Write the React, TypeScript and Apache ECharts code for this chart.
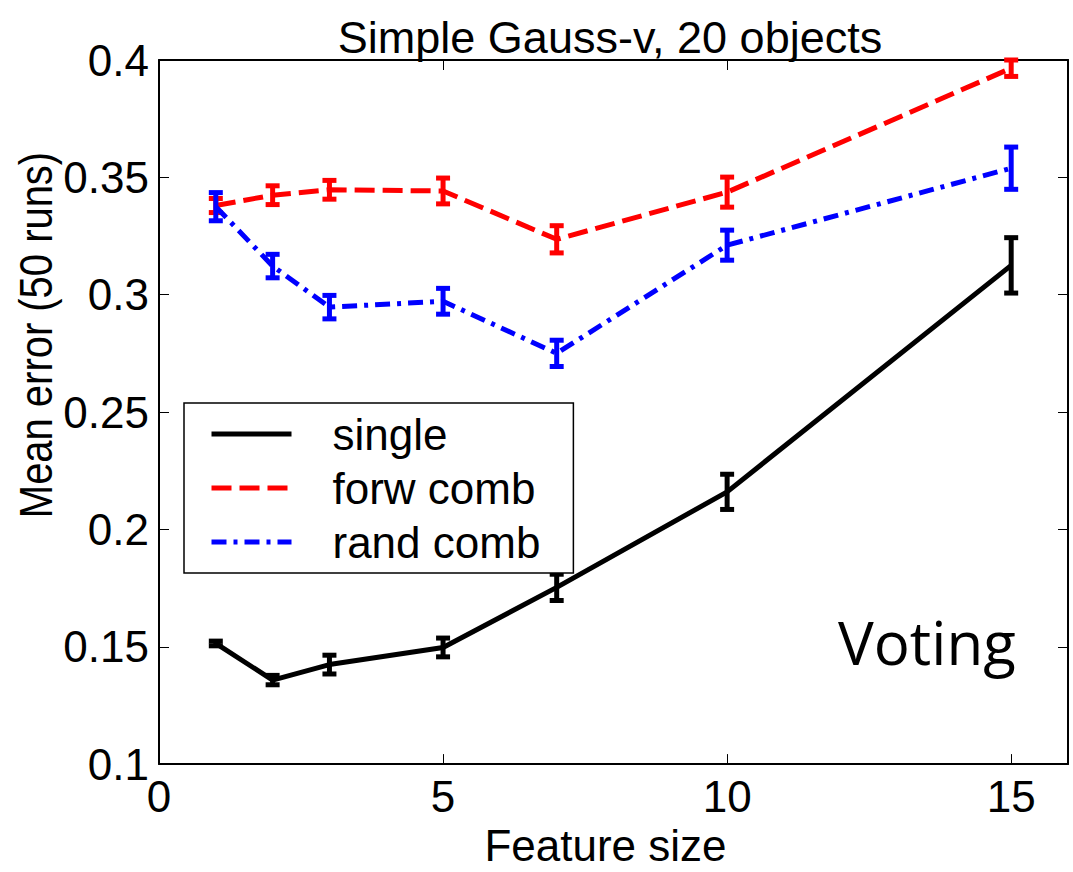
import React, { useEffect, useRef } from "react";
import * as echarts from "echarts";

const featureSizes = [1, 2, 3, 5, 7, 10, 15];
const singleMean = [0.1514, 0.1358, 0.1424, 0.1497, 0.1753, 0.216, 0.3125];
const singleErr = [0.001, 0.002, 0.004, 0.004, 0.0056, 0.0075, 0.0118];
const forwMean = [0.338, 0.3424, 0.3447, 0.3442, 0.3236, 0.3437, 0.3965];
const forwErr = [0.003, 0.004, 0.004, 0.0055, 0.0058, 0.0064, 0.0035];
const randMean = [0.3375, 0.3122, 0.2947, 0.2972, 0.275, 0.3211, 0.3539];
const randErr = [0.006, 0.005, 0.005, 0.0055, 0.0056, 0.0064, 0.009];

const FONT = "'Liberation Sans', Arial, Helvetica, sans-serif";

function errData(means: number[], errs: number[]) {
  return featureSizes.map((x, i) => [x, means[i] - errs[i], means[i] + errs[i]]);
}

function errRender(color: string) {
  return (params: any, api: any) => {
    const x = api.value(0);
    const lo = api.value(1);
    const hi = api.value(2);
    const top = api.coord([x, hi]);
    const bot = api.coord([x, lo]);
    const hw = 7;
    const st = { stroke: color, lineWidth: 5 };
    return {
      type: "group",
      children: [
        { type: "line", shape: { x1: top[0], y1: top[1], x2: bot[0], y2: bot[1] }, style: st },
        { type: "line", shape: { x1: top[0] - hw, y1: top[1], x2: top[0] + hw, y2: top[1] }, style: st },
        { type: "line", shape: { x1: bot[0] - hw, y1: bot[1], x2: bot[0] + hw, y2: bot[1] }, style: st },
      ],
    };
  };
}

export default function App() {
  const ref = useRef<HTMLDivElement>(null);
  useEffect(() => {
    if (!ref.current) return;
    const chart = echarts.init(ref.current, null, { renderer: "svg" });
    const axisCommon = {
      axisLine: { show: true, onZero: false, lineStyle: { color: "#000", width: 2 } },
      axisTick: { show: true, inside: true, length: 10, lineStyle: { color: "#000", width: 1 } },
      splitLine: { show: false },
    };
    chart.setOption({
      animation: false,
      backgroundColor: "#fff",
      title: {
        text: "Simple Gauss-v, 20 objects",
        left: 605,
        top: 10,
        textAlign: "center",
        textStyle: { fontFamily: FONT, fontSize: 45, fontWeight: "normal", color: "#000" },
      },
      grid: { left: 159, width: 909, top: 60, height: 720, containLabel: false },
      legend: {
        orient: "vertical",
        left: 184,
        top: 403,
        data: ["single", "forw comb", "rand comb"],
        itemWidth: 80,
        itemHeight: 20,
        itemGap: 10,
        padding: [9, 33, 9, 25],
        borderColor: "#000",
        borderWidth: 1.5,
        backgroundColor: "#fff",
        itemStyle: { opacity: 0 },
        lineStyle: { width: 5 },
        textStyle: { fontFamily: FONT, fontSize: 44, color: "#000", lineHeight: 44, padding: [0, 0, 0, 36] },
      },
      xAxis: [
        {
          type: "value",
          min: 0,
          max: 16,
          interval: 5,
          name: "Feature size",
          nameLocation: "middle",
          nameGap: 43,
          nameTextStyle: { fontFamily: FONT, fontSize: 44, color: "#000", padding: [0, 16, 0, 0] },
          axisLabel: { fontFamily: FONT, fontSize: 44, color: "#000", margin: 10, showMaxLabel: false },
          ...axisCommon,
        },
        {
          type: "value",
          position: "top",
          min: 0,
          max: 16,
          interval: 5,
          axisLabel: { show: false },
          ...axisCommon,
        },
      ],
      yAxis: [
        {
          type: "value",
          min: 0.1,
          max: 0.4,
          interval: 0.05,
          axisLabel: { fontFamily: FONT, fontSize: 44, color: "#000", margin: 10 },
          ...axisCommon,
        },
        {
          type: "value",
          position: "right",
          min: 0.1,
          max: 0.4,
          interval: 0.05,
          axisLabel: { show: false },
          ...axisCommon,
        },
      ],
      graphic: [
        {
          type: "text",
          x: 36,
          y: 335,
          rotation: Math.PI / 2,
          scaleX: 0.85,
          scaleY: 1,
          style: {
            text: "Mean error (50 runs)",
            fontFamily: FONT,
            fontSize: 47,
            fill: "#000",
            align: "center",
            verticalAlign: "middle",
          },
        },
        {
          type: "text",
          left: 838,
          top: 612,
          style: { text: "Voting", fontFamily: "'Open Sans', 'Noto Sans', sans-serif", fontSize: 60, fill: "#000" },
          z: 10,
        },
      ],
      series: [
        {
          name: "single",
          type: "line",
          data: featureSizes.map((x, i) => [x, singleMean[i]]),
          symbol: "none",
          lineStyle: { color: "#000", width: 5, type: "solid" },
          itemStyle: { color: "#000" },
          z: 2,
        },
        {
          name: "single err",
          type: "custom",
          data: errData(singleMean, singleErr),
          renderItem: errRender("#000"),
          clip: false,
          z: 3,
        },
        {
          name: "forw comb",
          type: "line",
          data: featureSizes.map((x, i) => [x, forwMean[i]]),
          symbol: "none",
          lineStyle: { color: "#ff0000", width: 5, type: [20, 8] },
          itemStyle: { color: "#ff0000" },
          z: 2,
        },
        {
          name: "forw err",
          type: "custom",
          data: errData(forwMean, forwErr),
          renderItem: errRender("#ff0000"),
          clip: false,
          z: 3,
        },
        {
          name: "rand comb",
          type: "line",
          data: featureSizes.map((x, i) => [x, randMean[i]]),
          symbol: "none",
          lineStyle: { color: "#0000ff", width: 5, type: [15, 7, 4, 7] },
          itemStyle: { color: "#0000ff" },
          z: 4,
        },
        {
          name: "rand err",
          type: "custom",
          data: errData(randMean, randErr),
          renderItem: errRender("#0000ff"),
          clip: false,
          z: 5,
        },
      ],
    });
    return () => chart.dispose();
  }, []);
  return (
    <div
      ref={ref}
      style={{ position: "fixed", left: 0, top: 0, width: 1073, height: 872, background: "#fff" }}
    />
  );
}
